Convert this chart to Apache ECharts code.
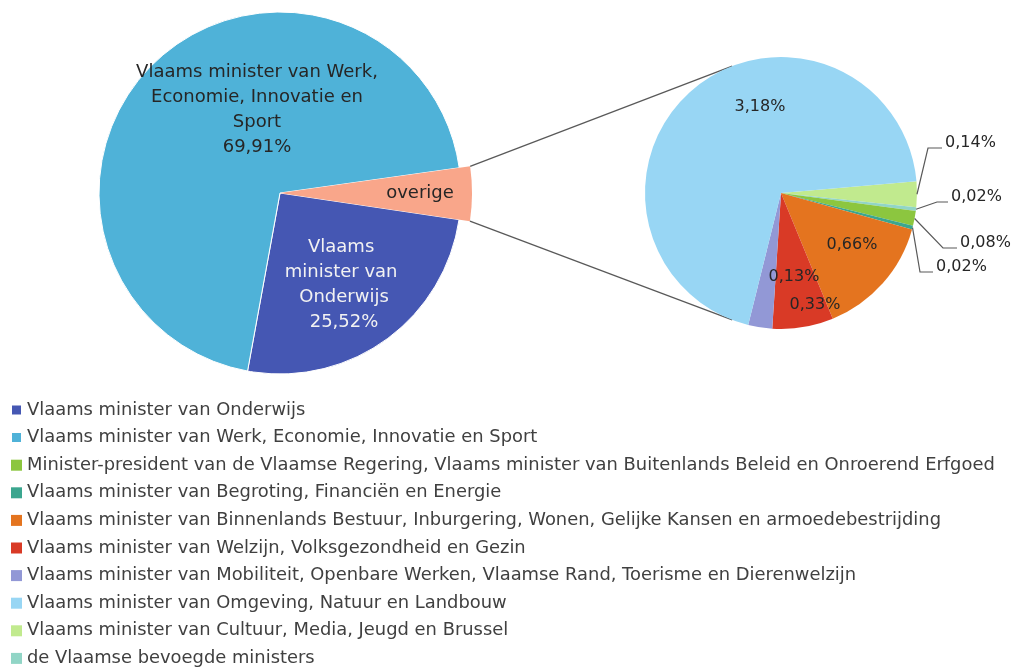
<!DOCTYPE html>
<html><head><meta charset="utf-8">
<script src="https://cdn.jsdelivr.net/npm/echarts@6/dist/echarts.min.js"></script>
<style>html,body{margin:0;padding:0;background:#fff}#c{width:1013px;height:668px}</style>
</head><body><div id="c"></div>
<script>
// ---- data ----
const N_OND = 'Vlaams minister van Onderwijs';
const N_WERK = 'Vlaams minister van Werk, Economie, Innovatie en Sport';
const N_MP = 'Minister-president van de Vlaamse Regering, Vlaams minister van Buitenlands Beleid en Onroerend Erfgoed';
const N_BEGR = 'Vlaams minister van Begroting, Financiën en Energie';
const N_BINN = 'Vlaams minister van Binnenlands Bestuur, Inburgering, Wonen, Gelijke Kansen en armoedebestrijding';
const N_WELZ = 'Vlaams minister van Welzijn, Volksgezondheid en Gezin';
const N_MOB = 'Vlaams minister van Mobiliteit, Openbare Werken, Vlaamse Rand, Toerisme en Dierenwelzijn';
const N_OMG = 'Vlaams minister van Omgeving, Natuur en Landbouw';
const N_CULT = 'Vlaams minister van Cultuur, Media, Jeugd en Brussel';
const N_BEV = 'de Vlaamse bevoegde ministers';

const mainNames = ['overige', N_OND, N_WERK];
const mainValues = [4.57, 25.52, 69.91];

const subNames = [N_CULT, N_BEV, N_MP, N_BEGR, N_BINN, N_WELZ, N_MOB, N_OMG];
const subValues = [0.14, 0.02, 0.08, 0.02, 0.66, 0.33, 0.13, 3.18];

const legendOrder = [N_OND, N_WERK, N_MP, N_BEGR, N_BINN, N_WELZ, N_MOB, N_OMG, N_CULT, N_BEV];

// ---- styles ----
const colorOf = {
  'overige': '#F9A68A',
  [N_OND]: '#4557B3',
  [N_WERK]: '#4FB2D8',
  [N_MP]: '#8CC63F',
  [N_BEGR]: '#3BA68F',
  [N_BINN]: '#E4741F',
  [N_WELZ]: '#D93A26',
  [N_MOB]: '#9298D6',
  [N_OMG]: '#98D6F4',
  [N_CULT]: '#C1EA8E',
  [N_BEV]: '#91D5C6'
};
const FONT = 'DejaVu Sans';
const MAIN = {cx: 280, cy: 193, r: 181, rOver: 192, start: 8};
const SUB = {cx: 781, cy: 193, r: 136, start: 5};

const fmt = v => v.toFixed(2).replace('.', ',') + '%';

// label positions (relative to pie centres)
const mainLabelPos = {1: [64, 92], 2: [-23, -83]};
const subInsidePos = {4: [71, 52], 5: [34, 112], 6: [13, 84], 7: [-21, -86]};
// elbow leader lines for small slices: [bend dx, bend dy, end dx]
const subElbow = {0: [147, -45, 161], 1: [156, 9, 167], 2: [162, 55, 176], 3: [139, 79, 152]};

const rad = d => d * Math.PI / 180;
const pt = (c, r, a) => [c.cx + r * Math.cos(rad(a)), c.cy - r * Math.sin(rad(a))];

// geometry derived from data
const mainTotal = mainValues.reduce((a, b) => a + b, 0);
const overEnd = MAIN.start - mainValues[0] / mainTotal * 360;
const subTotal = subValues.reduce((a, b) => a + b, 0);
const subMid = [];
{ let a = SUB.start; subValues.forEach(v => { const s = v / subTotal * 360; subMid.push(a - s / 2); a -= s; }); }

const graphics = [];
const lineStyle = {stroke: '#595959', lineWidth: 1.3, fill: null};
graphics.push({type: 'polyline', silent: true, z: 1, shape: {points: [pt(MAIN, MAIN.rOver, MAIN.start), pt(SUB, SUB.r, 111)]}, style: lineStyle});
graphics.push({type: 'polyline', silent: true, z: 1, shape: {points: [pt(MAIN, MAIN.rOver, overEnd), pt(SUB, SUB.r, -111)]}, style: lineStyle});
Object.keys(subElbow).forEach(k => {
  const e = subElbow[k];
  graphics.push({type: 'polyline', silent: true, z: 10, shape: {points: [
    pt(SUB, SUB.r, subMid[k]), [SUB.cx + e[0], SUB.cy + e[1]], [SUB.cx + e[2], SUB.cy + e[1]]
  ]}, style: {stroke: '#595959', lineWidth: 1.2, fill: null}});
});

const txt = {fontFamily: FONT, fontSize: 18, color: '#333'};

const option = {
  animation: false,
  backgroundColor: '#fff',
  legend: {
    orient: 'vertical', left: 10, top: 401, padding: 0,
    itemWidth: 11, itemHeight: 11, icon: 'rect', itemGap: 9.6,
    selectedMode: false,
    data: legendOrder,
    textStyle: {fontFamily: FONT, fontSize: 17.9, color: '#404040', lineHeight: 18}
  },
  graphic: graphics,
  series: [
    {
      type: 'pie', center: [MAIN.cx, MAIN.cy], radius: MAIN.r, startAngle: MAIN.start,
      clockwise: true, silent: true, avoidLabelOverlap: false,
      itemStyle: {borderColor: '#fff', borderWidth: 1},
      label: {show: true, position: 'inside', align: 'center', lineHeight: 25, ...txt},
      labelLine: {show: false},
      labelLayout: p => {
        const o = mainLabelPos[p.dataIndex];
        return o ? {x: MAIN.cx + o[0], y: MAIN.cy + o[1], align: 'center', verticalAlign: 'middle'} : {};
      },
      data: mainNames.map((n, i) => ({
        name: n, value: mainValues[i], itemStyle: {color: colorOf[n]},
        label: i === 0 ? {show: false} : {
          width: i === 1 ? 135 : 248, overflow: 'break',
          color: i === 1 ? '#F2F2F2' : '#262626',
          formatter: p => p.name + '\n' + fmt(p.value)
        }
      }))
    },
    {
      type: 'pie', center: [MAIN.cx, MAIN.cy], radius: MAIN.rOver, startAngle: MAIN.start,
      clockwise: true, silent: true, avoidLabelOverlap: false,
      label: {show: false},
      labelLine: {show: false},
      labelLayout: p => p.dataIndex === 0 ? {x: MAIN.cx + 140, y: MAIN.cy, align: 'center', verticalAlign: 'middle'} : {},
      data: mainNames.map((n, i) => ({
        name: n, value: mainValues[i],
        itemStyle: {color: i === 0 ? colorOf[n] : 'rgba(0,0,0,0)'},
        label: i === 0 ? {show: true, position: 'inside', formatter: '{b}', ...txt, color: '#262626'} : {show: false}
      }))
    },
    {
      type: 'pie', center: [SUB.cx, SUB.cy], radius: SUB.r, startAngle: SUB.start,
      clockwise: true, silent: true, avoidLabelOverlap: false,
      label: {show: true, position: 'inside', formatter: p => fmt(p.value), ...txt, fontSize: 16, color: '#262626'},
      labelLine: {show: false},
      labelLayout: p => {
        const i = p.dataIndex;
        if (subInsidePos[i]) return {x: SUB.cx + subInsidePos[i][0], y: SUB.cy + subInsidePos[i][1], align: 'center', verticalAlign: 'middle'};
        const e = subElbow[i];
        return {x: SUB.cx + e[2] + 3, y: SUB.cy + e[1] - 5, align: 'left', verticalAlign: 'middle'};
      },
      data: subNames.map((n, i) => ({name: n, value: subValues[i], itemStyle: {color: colorOf[n]}}))
    }
  ]
};
const chart = echarts.init(document.getElementById('c'), null, {renderer: 'canvas'});
chart.setOption(option);
</script>
</body></html>
